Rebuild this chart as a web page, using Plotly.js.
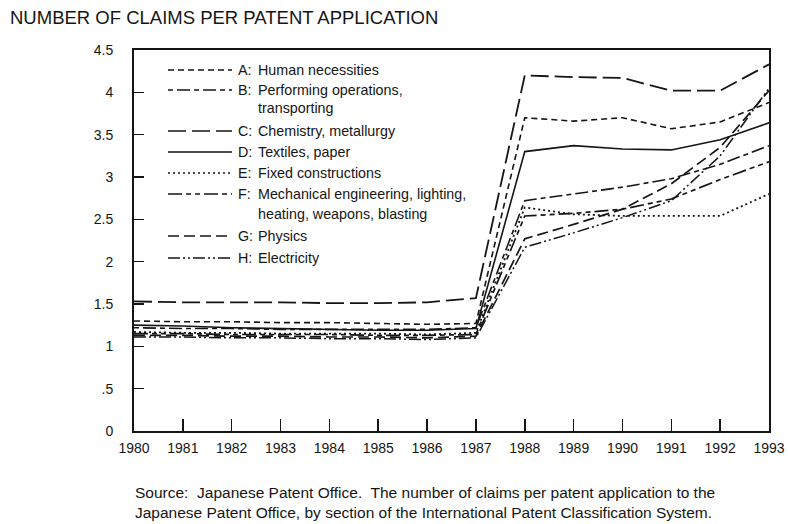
<!DOCTYPE html>
<html>
<head>
<meta charset="utf-8">
<script src="https://cdn.plot.ly/plotly-3.0.1.min.js"></script>
<style>html,body{margin:0;padding:0;background:#fff;}#chart{width:788px;height:524px;}</style>
</head>
<body>
<div id="chart"></div>
<script>
// ---- data ----
const years = [1980,1981,1982,1983,1984,1985,1986,1987,1988,1989,1990,1991,1992,1993];
const seriesA = [1.30,1.29,1.29,1.28,1.28,1.27,1.26,1.27,3.70,3.66,3.70,3.57,3.65,3.88];
const seriesB = [1.22,1.21,1.21,1.20,1.20,1.20,1.20,1.22,2.72,2.80,2.88,2.98,3.15,3.37];
const seriesC = [1.53,1.52,1.52,1.52,1.51,1.51,1.52,1.57,4.20,4.18,4.17,4.02,4.02,4.33];
const seriesD = [1.25,1.24,1.22,1.21,1.20,1.19,1.19,1.21,3.30,3.37,3.33,3.32,3.44,3.64];
const seriesE = [1.17,1.16,1.16,1.15,1.15,1.15,1.14,1.16,2.64,2.56,2.54,2.54,2.54,2.80];
const seriesF = [1.15,1.15,1.14,1.14,1.14,1.13,1.13,1.14,2.54,2.57,2.62,2.74,2.97,3.18];
const seriesG = [1.13,1.13,1.12,1.12,1.11,1.11,1.10,1.12,2.27,2.44,2.62,2.92,3.35,4.02];
const seriesH = [1.11,1.11,1.10,1.10,1.09,1.09,1.08,1.10,2.17,2.34,2.52,2.72,3.25,4.05];
const letters = ["A","B","C","D","E","F","G","H"];
const descriptions = [
  ["Human necessities"],
  ["Performing operations,","transporting"],
  ["Chemistry, metallurgy"],
  ["Textiles, paper"],
  ["Fixed constructions"],
  ["Mechanical engineering, lighting,","heating, weapons, blasting"],
  ["Physics"],
  ["Electricity"]
];
const yTickVals = [0,0.5,1,1.5,2,2.5,3,3.5,4,4.5];
const yTickText = ["0",".5","1","1.5","2","2.5","3","3.5","4","4.5"];
const xTickText = years.map(String);
const titleText = "NUMBER OF CLAIMS PER PATENT APPLICATION";
const sourceLines = [
  "Source:  Japanese Patent Office.  The number of claims per patent application to the",
  "Japanese Patent Office, by section of the International Patent Classification System."
];

// ---- styles ----
const allSeries = [seriesA,seriesB,seriesC,seriesD,seriesE,seriesF,seriesG,seriesH];
const dashes = [
  "6px,4px",
  "5px,4px,13px,4px",
  "18px,6px",
  "solid",
  "2px,3px",
  "14px,4px,5px,4px,5px,4px",
  "11px,5px",
  "12px,3px,2px,3px,2px,3px"
];
const widths = [1.6,1.6,1.8,1.6,1.8,1.7,1.7,1.5];
const ink = "#151515";
const FONT = "Liberation Sans, Arial, Helvetica, sans-serif";

const traces = allSeries.map((s,i)=>({
  x: years, y: s, type: "scatter", mode: "lines",
  name: letters[i] + ": " + descriptions[i].join(" "),
  line: {color: ink, width: widths[i], dash: dashes[i]},
  showlegend: false, hoverinfo: "skip"
}));

// plot-area geometry in pixels for custom legend
const W = 788, H = 524, L = 134, R = 19, T = 50, B = 93;
const pw = W - L - R, ph = H - T - B;
const px = v => (v - L) / pw;
const py = v => (H - B - v) / ph;

const rowsY = [[70],[90,108],[131],[152],[173],[194,214],[236],[258]];
const shapes = [];
const annotations = [];
rowsY.forEach((rows,i)=>{
  shapes.push({type:"line", xref:"paper", yref:"paper",
    x0:px(168), x1:px(232), y0:py(rows[0]), y1:py(rows[0]),
    line:{color:ink, width:1.5, dash:dashes[i]}});
  annotations.push({xref:"paper", yref:"paper", x:px(236), y:py(rows[0]),
    xanchor:"left", yanchor:"middle", showarrow:false, text:letters[i]+":",
    font:{family:FONT, size:14.3, color:ink}});
  descriptions[i].forEach((t,k)=>{
    annotations.push({xref:"paper", yref:"paper", x:px(256), y:py(rows[k]),
      xanchor:"left", yanchor:"middle", showarrow:false, text:t,
      font:{family:FONT, size:14.3, color:ink}});
  });
});
sourceLines.forEach((t,k)=>{
  annotations.push({xref:"paper", yref:"paper", x:px(133), y:py(492 + k*20),
    xanchor:"left", yanchor:"middle", showarrow:false, text:t,
    font:{family:FONT, size:15.5, color:ink}});
});

const layout = {
  width: W, height: H,
  margin: {l:L, r:R, t:T, b:B, pad:0},
  paper_bgcolor: "#fff", plot_bgcolor: "#fff",
  font: {family: FONT, color: ink, size: 14},
  title: {text: titleText, x: 10/W, xanchor: "left", y: 1 - 18/H, yanchor: "middle",
    font: {family: FONT, size: 18.5, color: ink}},
  xaxis: {range:[1980,1993], tickvals: years, ticktext: xTickText,
    showgrid:false, zeroline:false, showline:true, mirror:true, linecolor:ink, linewidth:2,
    ticks:"inside", ticklen:12, tickwidth:1.5, tickcolor:ink, tickfont:{size:14},
    ticklabelstandoff: 3},
  yaxis: {range:[0,4.5], tickvals: yTickVals, ticktext: yTickText,
    showgrid:false, zeroline:false, showline:true, mirror:true, linecolor:ink, linewidth:2,
    ticks:"inside", ticklen:10, tickwidth:1.5, tickcolor:ink, tickfont:{size:14},
    ticklabelstandoff: 16},
  shapes: shapes,
  annotations: annotations,
  showlegend: false
};
Plotly.newPlot("chart", traces, layout, {staticPlot:true, displayModeBar:false});
</script>
</body>
</html>
